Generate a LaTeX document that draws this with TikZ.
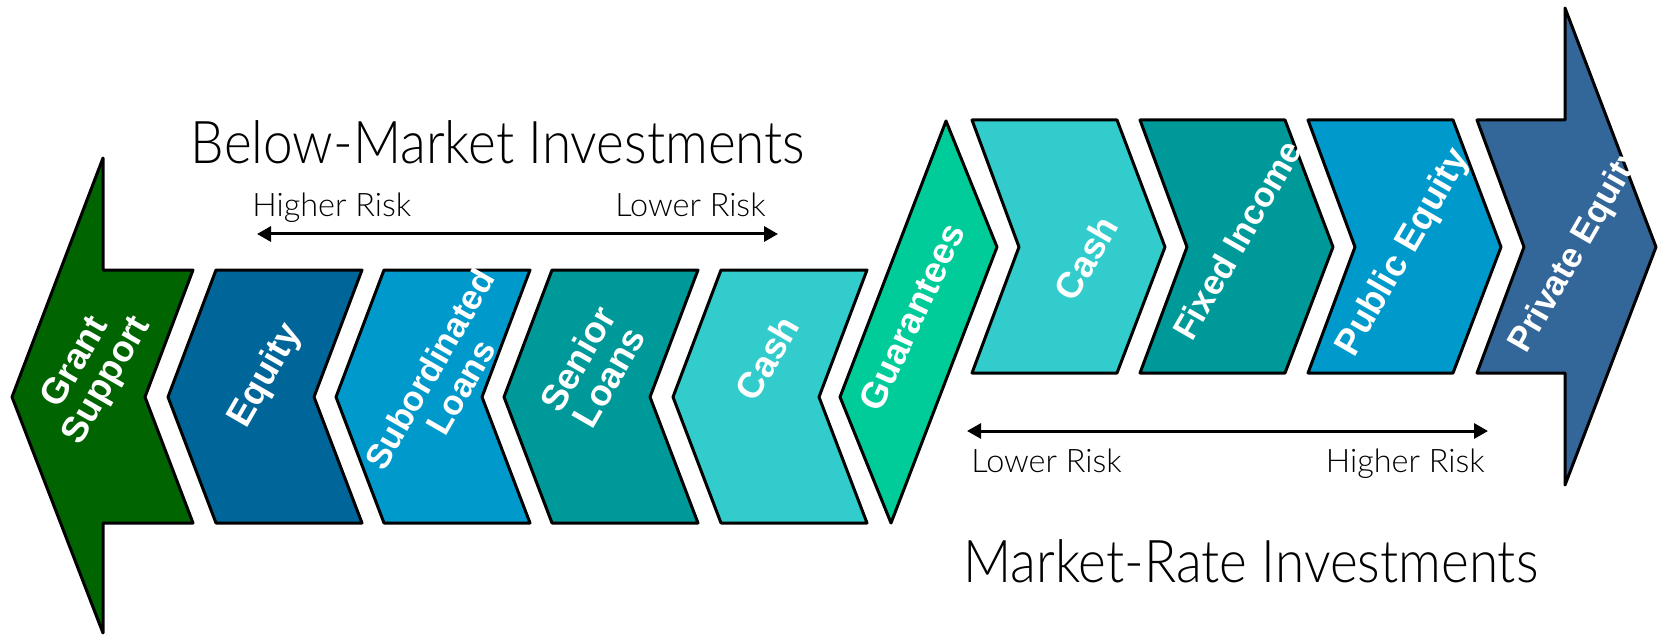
\documentclass[tikz,border=0pt]{standalone}
\usepackage{fontspec}
\setmainfont{Liberation Sans}
\newfontfamily\lightfont{Lato}[UprightFont={* Light},FakeStretch=0.9]
\newfontfamily\risklightfont{Lato}[UprightFont={* Light}]
\usetikzlibrary{arrows.meta}
\definecolor{cGrant}{RGB}{0,100,0}
\definecolor{cEquity}{RGB}{0,102,153}
\definecolor{cSub}{RGB}{0,153,204}
\definecolor{cSenior}{RGB}{0,153,153}
\definecolor{cCash}{RGB}{51,204,204}
\definecolor{cGuar}{RGB}{0,204,153}
\definecolor{cPriv}{RGB}{51,102,153}
\begin{document}
\begin{tikzpicture}[x=0.5pt,y=-0.5pt,
  blk/.style={draw=black,line width=1.5pt,line join=round},
  lbl/.style={text=white,font=\fontsize{18.3}{18}\selectfont\bfseries,rotate=60,align=center,inner sep=0pt},
  lblsmall/.style={lbl,font=\fontsize{17.4}{18}\selectfont\bfseries},
  ttl/.style={font=\lightfont\fontsize{29.5}{34}\selectfont,inner sep=0pt},
  risk/.style={font=\risklightfont\fontsize{16.2}{18}\selectfont,inner sep=0pt},
  riskarrow/.style={line width=1.5pt,{Triangle[length=7pt,width=7.5pt]}-{Triangle[length=7pt,width=7.5pt]}}]
\useasboundingbox (0,0) rectangle (1658,636);
% Grant support (left arrow)
\fill[cGrant,blk] (12,397) -- (103,158) -- (103,270) -- (193,270) -- (145,397) -- (193,523) -- (103,523) -- (103,633) -- cycle;
% below-market chevrons (pointing left)
\foreach \a/\c in {216/cEquity,384/cSub,552/cSenior,721/cCash}{
  \fill[\c,blk] (\a,270) -- (\a+146,270) -- (\a+98,397) -- (\a+146,523) -- (\a,523) -- (\a-48,397) -- cycle;
}
% Guarantees
\fill[cGuar,blk] (840,397) -- (946,121) -- (997,247) -- (891,523) -- cycle;
% market-rate chevrons (pointing right)
\foreach \b/\c in {972/cCash,1140/cSenior,1308/cSub}{
  \fill[\c,blk] (\b,120) -- (\b+145,120) -- (\b+193,247) -- (\b+145,373) -- (\b,373) -- (\b+47,247) -- cycle;
}
% Private equity (right arrow)
\fill[cPriv,blk] (1477,120) -- (1565,120) -- (1565,8) -- (1656,247) -- (1565,485) -- (1565,373) -- (1477,373) -- (1524,247) -- cycle;
% labels
\node[lbl] (grant) at (92,372) {Grant\\Support};
\node[lbl] (equity) at (266,376) {Equity};
\node[lblsmall] (sub) at (445,378) {Subordinated\\Loans};
\node[lbl] (senior) at (593,368) {Senior\\Loans};
\node[lbl] (cashb) at (767,358) {Cash};
\node[lbl,rotate=5] (guar) at (912,317) {Guarantees};
\node[lbl] (cashm) at (1086,258) {Cash};
\node[lblsmall] (fixed) at (1237,240) {Fixed Income};
\node[lbl] (public) at (1404,253) {Public Equity};
\node[lblsmall] (private) at (1577,250) {Private Equity};
% titles
\node[ttl,anchor=base] (below) at (498,164) {Below-Market Investments};
\node[ttl,anchor=base] (market) at (1251,582) {Market-Rate Investments};
% risk arrows
\coordinate (ta) at (257,234);
\coordinate (tb) at (778,234);
\draw[riskarrow] (ta) -- (tb);
\node[risk,anchor=base west] (hr1) at (252,217) {Higher Risk};
\node[risk,anchor=base east] (lr1) at (766,217) {Lower Risk};
\coordinate (ba) at (967,431);
\coordinate (bb) at (1488,431);
\draw[riskarrow] (ba) -- (bb);
\node[risk,anchor=base west] (lr2) at (971,472) {Lower Risk};
\node[risk,anchor=base east] (hr2) at (1485,472) {Higher Risk};
\end{tikzpicture}
\end{document}
